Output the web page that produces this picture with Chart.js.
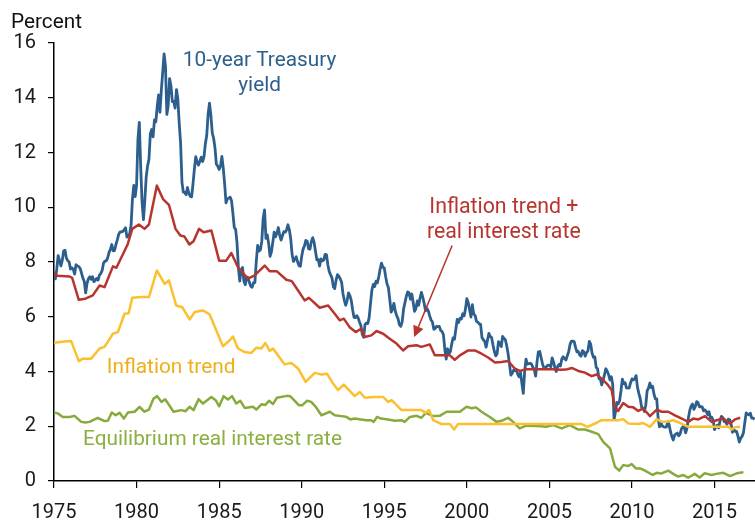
<!DOCTYPE html>
<html>
<head>
<meta charset="utf-8">
<script src="https://cdn.jsdelivr.net/npm/chart.js@4.4.1/dist/chart.umd.min.js"></script>
<style>
  html, body { margin: 0; padding: 0; background: #fff; }
  canvas { display: block; }
</style>
</head>
<body>
<canvas id="chart" width="755" height="521"></canvas>
<script>
// 10-year Treasury yield, monthly from Jan 1975
const treasuryStart = 1975;
const treasury = [
  7.50, 7.39, 7.73, 8.23, 8.06, 7.86, 8.06, 8.40, 8.43, 8.14, 8.05, 8.00,
  7.74, 7.79, 7.73, 7.56, 7.90, 7.86, 7.83, 7.77, 7.59, 7.41, 7.29, 6.87,
  7.21, 7.39, 7.46, 7.37, 7.46, 7.28, 7.33, 7.40, 7.34, 7.52, 7.58, 7.69,
  7.96, 8.03, 8.04, 8.15, 8.35, 8.46, 8.64, 8.41, 8.42, 8.64, 8.81, 9.01,
  9.10, 9.10, 9.12, 9.18, 9.25, 8.91, 8.95, 9.03, 9.33, 10.30, 10.80, 10.39,
  10.80, 12.50, 13.10, 11.47, 10.18, 9.55, 10.25, 11.10, 11.51, 11.75, 12.68, 12.84,
  12.57, 13.19, 13.12, 13.68, 14.10, 13.47, 14.28, 14.94, 15.60, 15.15, 13.39, 13.72,
  14.70, 14.43, 13.86, 13.87, 13.62, 14.30, 13.95, 13.06, 12.34, 10.91, 10.55, 10.54,
  10.46, 10.72, 10.51, 10.40, 10.38, 10.85, 11.38, 11.85, 11.65, 11.54, 11.69, 11.83,
  11.67, 11.84, 12.32, 12.63, 13.41, 13.80, 13.36, 12.72, 12.52, 12.16, 11.57, 11.50,
  11.38, 11.51, 11.86, 11.43, 10.85, 10.16, 10.31, 10.33, 10.37, 10.24, 9.78, 9.26,
  9.19, 8.70, 7.78, 7.30, 7.71, 7.80, 7.30, 7.17, 7.45, 7.43, 7.25, 7.11,
  7.08, 7.25, 7.25, 8.02, 8.61, 8.40, 8.45, 8.76, 9.60, 9.90, 8.86, 8.99,
  8.67, 8.21, 8.37, 8.72, 9.09, 8.92, 9.06, 9.26, 8.98, 8.80, 8.96, 9.11,
  9.09, 9.17, 9.36, 9.18, 8.86, 8.28, 8.02, 8.11, 8.19, 8.01, 7.87, 7.84,
  8.21, 8.47, 8.59, 8.79, 8.76, 8.48, 8.47, 8.75, 8.89, 8.72, 8.39, 8.08,
  8.09, 7.85, 8.11, 8.04, 8.07, 8.28, 8.27, 7.90, 7.65, 7.53, 7.42, 7.09,
  7.03, 7.34, 7.54, 7.48, 7.39, 7.26, 6.84, 6.59, 6.42, 6.59, 6.87, 6.77,
  6.60, 6.26, 5.98, 5.97, 6.04, 5.96, 5.81, 5.68, 5.36, 5.25, 5.72, 5.77,
  5.75, 5.97, 6.48, 6.97, 7.18, 7.10, 7.30, 7.24, 7.46, 7.74, 7.96, 7.81,
  7.78, 7.47, 7.20, 7.06, 6.63, 6.17, 6.28, 6.49, 6.20, 6.04, 5.93, 5.71,
  5.65, 5.81, 6.27, 6.51, 6.74, 6.91, 6.87, 6.64, 6.83, 6.53, 6.20, 6.30,
  6.58, 6.42, 6.69, 6.89, 6.71, 6.49, 6.22, 6.30, 6.21, 6.03, 5.88, 5.81,
  5.54, 5.57, 5.65, 5.64, 5.65, 5.50, 5.46, 5.34, 4.81, 4.45, 4.83, 4.65,
  4.72, 5.00, 5.23, 5.18, 5.54, 5.90, 5.79, 5.94, 5.92, 6.11, 6.03, 6.28,
  6.66, 6.52, 6.26, 5.99, 6.44, 6.10, 6.05, 5.83, 5.80, 5.74, 5.72, 5.24,
  5.16, 5.10, 4.89, 5.14, 5.39, 5.28, 5.24, 4.97, 4.73, 4.57, 4.65, 5.09,
  5.04, 4.91, 5.28, 5.21, 5.16, 4.93, 4.65, 4.26, 3.87, 3.94, 4.05, 4.03,
  4.05, 3.90, 3.81, 3.96, 3.57, 3.20, 3.98, 4.45, 4.27, 4.29, 4.30, 4.27,
  4.15, 4.08, 3.83, 4.35, 4.72, 4.73, 4.50, 4.28, 4.13, 4.10, 4.19, 4.23,
  4.22, 4.17, 4.50, 4.34, 4.14, 4.00, 4.18, 4.26, 4.20, 4.46, 4.54, 4.47,
  4.42, 4.57, 4.72, 4.99, 5.11, 5.11, 5.09, 4.88, 4.72, 4.73, 4.60, 4.56,
  4.76, 4.72, 4.56, 4.69, 4.75, 5.10, 5.00, 4.67, 4.52, 4.53, 4.15, 4.10,
  3.74, 3.74, 3.51, 3.68, 3.88, 4.10, 4.01, 3.89, 3.69, 3.81, 3.53, 2.25,
  2.52, 2.87, 2.82, 2.93, 3.29, 3.72, 3.56, 3.59, 3.40, 3.39, 3.40, 3.59,
  3.73, 3.69, 3.73, 3.85, 3.42, 3.20, 3.01, 2.70, 2.65, 2.54, 2.76, 3.29,
  3.39, 3.58, 3.41, 3.46, 3.17, 3.00, 3.00, 2.30, 1.98, 2.15, 2.01, 1.98,
  1.97, 1.97, 2.17, 2.05, 1.80, 1.62, 1.50, 1.68, 1.72, 1.75, 1.65, 1.72,
  1.91, 1.98, 1.96, 1.76, 1.93, 2.30, 2.58, 2.74, 2.81, 2.62, 2.72, 2.90,
  2.86, 2.71, 2.72, 2.71, 2.56, 2.60, 2.54, 2.42, 2.53, 2.30, 2.33, 2.21,
  1.88, 1.98, 2.04, 1.94, 2.20, 2.36, 2.32, 2.17, 2.17, 2.07, 2.26, 2.24,
  2.09, 1.78, 1.89, 1.81, 1.81, 1.64, 1.42, 1.56, 1.63, 1.76, 2.14, 2.49,
  2.43, 2.42, 2.48, 2.30, 2.30, 2.25
];

// Inflation trend + real interest rate
const combinedYears = [
  1975.0, 1975.2, 1975.94, 1976.1, 1976.5, 1976.9, 1977.35, 1977.76, 1978.06, 1978.57, 1978.78,
  1979.47, 1979.74, 1980.14, 1980.48, 1980.75, 1981.23, 1981.6, 1981.96, 1982.36, 1982.65, 1982.9,
  1983.2, 1983.45, 1983.78, 1984.06, 1984.53, 1985.0, 1985.43, 1985.74, 1986.14, 1986.75, 1987.15,
  1987.76, 1988.06, 1988.5, 1989.07, 1989.4, 1989.78, 1990.18, 1990.44, 1991.09, 1991.6, 1992.0,
  1992.3, 1992.55, 1992.9, 1993.27, 1993.6, 1993.82, 1994.22, 1994.53, 1994.93, 1995.33, 1995.74,
  1996.14, 1996.44, 1996.95, 1997.25, 1997.76, 1998.06, 1998.56, 1998.97, 1999.27, 1999.58, 2000.08,
  2000.48, 2000.89, 2001.29, 2001.7, 2002.1, 2002.5, 2002.9, 2003.2, 2003.6, 2004.2, 2004.8,
  2005.2, 2005.7, 2006.0, 2006.35, 2006.75, 2007.15, 2007.56, 2007.86, 2008.16, 2008.47, 2008.77,
  2008.97, 2009.17, 2009.47, 2009.78, 2010.08, 2010.38, 2010.68, 2011.09, 2011.5, 2011.8, 2012.2,
  2012.6, 2013.11, 2013.41, 2013.71, 2014.02, 2014.42, 2014.83, 2015.13, 2015.53, 2015.94, 2016.24,
  2016.55
];
const combined = [
  7.6, 7.5, 7.47, 7.42, 6.62, 6.66, 6.78, 7.14, 7.08, 7.84, 7.79,
  8.66, 9.21, 9.37, 9.21, 9.37, 10.79, 10.3, 10.09, 9.21, 8.97, 8.93,
  8.64, 8.76, 9.21, 9.09, 9.15, 8.05, 8.05, 8.33, 7.81, 7.39, 7.51,
  7.87, 7.66, 7.66, 7.35, 7.3, 6.96, 6.6, 6.69, 6.33, 6.41, 6.11,
  5.87, 5.93, 5.62, 5.44, 5.56, 5.26, 5.32, 5.48, 5.38, 5.2, 5.02,
  4.77, 4.92, 4.96, 4.9, 4.99, 4.59, 4.59, 4.59, 4.43, 4.59, 4.77,
  4.77, 4.65, 4.51, 4.33, 4.35, 4.38, 4.11, 4.02, 4.08, 4.08, 4.08,
  4.08, 4.06, 4.07, 4.13, 4.02, 3.96, 3.83, 3.89, 3.74, 3.56, 3.32,
  2.71, 2.56, 2.85, 2.71, 2.69, 2.56, 2.65, 2.37, 2.61, 2.53, 2.53,
  2.4, 2.25, 2.16, 2.28, 2.25, 2.37, 2.16, 2.22, 2.28, 2.1, 2.25,
  2.31
];

// Inflation trend
const inflationYears = [
  1975.0, 1975.64, 1976.04, 1976.5, 1976.75, 1977.25, 1977.76, 1978.06, 1978.57, 1978.87, 1979.27,
  1979.52, 1979.74, 1980.28, 1980.75, 1981.23, 1981.7, 1981.96, 1982.4, 1982.77, 1983.21, 1983.52,
  1984.02, 1984.42, 1985.23, 1985.64, 1985.84, 1986.14, 1986.55, 1986.95, 1987.25, 1987.56, 1987.8,
  1988.06, 1988.26, 1988.97, 1989.37, 1989.78, 1990.24, 1990.79, 1991.19, 1991.53, 1991.9, 1992.2,
  1992.55, 1993.21, 1993.52, 1993.82, 1994.32, 1994.93, 1995.23, 1995.44, 1995.64, 1996.04, 1997.25,
  1997.5, 1997.72, 1997.96, 1998.47, 1998.97, 1999.23, 1999.47, 2006.95, 2007.3, 2007.76, 2008.16,
  2009.17, 2009.47, 2009.78, 2010.38, 2010.68, 2011.09, 2011.5, 2011.8, 2012.1, 2012.5, 2012.9,
  2013.41, 2015.84, 2016.04, 2016.24, 2016.55
];
const inflation = [
  5.05, 5.1, 5.11, 4.38, 4.47, 4.47, 4.84, 4.9, 5.38, 5.44, 6.11,
  6.13, 6.69, 6.72, 6.72, 7.69, 7.2, 7.33, 6.41, 6.35, 5.9, 6.17,
  6.23, 6.09, 4.92, 5.14, 5.28, 4.84, 4.71, 4.68, 4.87, 4.84, 5.04,
  4.75, 4.84, 4.26, 4.31, 4.11, 3.62, 3.95, 3.89, 3.92, 3.56, 3.32,
  3.52, 3.1, 3.25, 3.04, 3.07, 3.07, 2.89, 2.95, 2.84, 2.59, 2.59,
  2.49, 2.59, 2.22, 2.08, 2.08, 1.88, 2.08, 2.08, 1.98, 2.1, 2.22,
  2.22, 2.26, 2.1, 2.08, 2.12, 1.98, 2.26, 2.16, 2.16, 2.22, 2.12,
  1.98, 1.98, 1.88, 1.96, 1.98
];

// Equilibrium real interest rate
const realRateYears = [
  1975.0, 1975.23, 1975.53, 1975.94, 1976.24, 1976.65, 1976.9, 1977.15, 1977.65, 1978.06, 1978.26,
  1978.5, 1978.73, 1978.97, 1979.23, 1979.47, 1979.88, 1980.18, 1980.48, 1980.75, 1981.03, 1981.25,
  1981.5, 1981.74, 1982.24, 1982.71, 1982.97, 1983.21, 1983.45, 1983.76, 1984.02, 1984.53, 1984.79,
  1985.0, 1985.27, 1985.53, 1985.78, 1986.04, 1986.28, 1986.55, 1987.05, 1987.25, 1987.56, 1987.8,
  1988.02, 1988.26, 1988.5, 1989.11, 1989.3, 1989.58, 1989.82, 1990.04, 1990.32, 1990.58, 1990.85,
  1991.19, 1991.7, 1992.0, 1992.4, 1992.67, 1992.95, 1993.2, 1993.6, 1993.92, 1994.2, 1994.36,
  1994.56, 1994.8, 1995.23, 1995.64, 1996.04, 1996.24, 1996.55, 1996.95, 1997.25, 1997.52, 1997.96,
  1998.36, 1998.77, 1999.58, 1999.98, 2000.3, 2000.55, 2000.89, 2001.39, 2001.8, 2002.1, 2002.5,
  2002.8, 2003.2, 2003.6, 2004.2, 2004.5, 2004.8, 2005.23, 2005.74, 2006.24, 2006.75, 2007.15,
  2007.56, 2007.96, 2008.26, 2008.67, 2008.97, 2009.23, 2009.47, 2009.78, 2009.98, 2010.24, 2010.5,
  2010.79, 2011.25, 2011.5, 2011.75, 2012.2, 2012.5, 2012.8, 2013.1, 2013.4, 2013.8, 2014.1,
  2014.4, 2014.83, 2015.1, 2015.53, 2015.94, 2016.34, 2016.75
];
const realRate = [
  2.5, 2.47, 2.34, 2.34, 2.38, 2.16, 2.14, 2.16, 2.31, 2.19, 2.2,
  2.5, 2.4, 2.49, 2.28, 2.5, 2.53, 2.71, 2.53, 2.61, 3.01, 3.1,
  2.89, 2.98, 2.53, 2.59, 2.55, 2.71, 2.59, 2.99, 2.83, 3.07, 2.95,
  2.73, 3.1, 2.98, 3.1, 2.83, 2.93, 2.67, 2.71, 2.61, 2.8, 2.78,
  2.93, 2.81, 3.04, 3.11, 3.1, 2.93, 2.77, 2.77, 2.93, 2.89, 2.71,
  2.4, 2.53, 2.4, 2.37, 2.35, 2.25, 2.28, 2.25, 2.22, 2.22, 2.16,
  2.34, 2.28, 2.25, 2.2, 2.22, 2.16, 2.34, 2.38, 2.31, 2.49, 2.37,
  2.38, 2.53, 2.53, 2.71, 2.66, 2.69, 2.53, 2.34, 2.16, 2.2, 2.31,
  2.16, 1.92, 2.02, 2.01, 2.0, 1.98, 2.04, 1.92, 2.04, 1.88, 1.88,
  1.8, 1.71, 1.43, 1.19, 0.52, 0.38, 0.58, 0.55, 0.62, 0.46, 0.46,
  0.38, 0.22, 0.3, 0.27, 0.38, 0.26, 0.16, 0.22, 0.12, 0.26, 0.13,
  0.28, 0.22, 0.26, 0.3, 0.18, 0.28, 0.32
];

const yTicks = [0, 2, 4, 6, 8, 10, 12, 14, 16];
const xTicks = [1975, 1980, 1985, 1990, 1995, 2000, 2005, 2010, 2015];

const BLUE = "#2c5f8e";
const RED = "#b8352f";
const YELLOW = "#fbc02d";
const GREEN = "#86ab3c";
const FONT = "Roboto";

const toPoints = (xs, ys) => ys.map((v, i) => ({ x: xs[i], y: v }));
const treasuryPoints = treasury.map((v, i) => ({ x: treasuryStart + i / 12, y: v }));

// text labels and the arrow, placed in data coordinates
const annotations = {
  id: "annotations",
  afterDatasetsDraw(chart) {
    const { ctx, scales } = chart;
    const px = (v) => scales.x.getPixelForValue(v);
    const py = (v) => scales.y.getPixelForValue(v);
    ctx.save();
    ctx.font = "20.8px " + FONT;
    ctx.textBaseline = "alphabetic";

    ctx.fillStyle = BLUE;
    ctx.textAlign = "center";
    ctx.fillText("10-year Treasury", px(1987.45), py(15.16));
    ctx.fillText("yield", px(1987.45), py(14.25));

    ctx.fillStyle = RED;
    ctx.font = "21.3px " + FONT;
    ctx.fillText("Inflation trend +", px(2002.24), py(9.8));
    ctx.fillText("real interest rate", px(2002.24), py(8.89));

    ctx.font = "20.8px " + FONT;
    ctx.textAlign = "left";
    ctx.fillStyle = "#eeaf1a";
    ctx.fillText("Inflation trend", px(1978.2), py(3.94));
    ctx.fillStyle = "#8bb041";
    ctx.fillText("Equilibrium real interest rate", px(1976.76), py(1.31));

    // arrow
    const x0 = px(1999.11), y0 = py(8.6);
    const x1 = px(1996.81), y1 = py(5.26);
    const ang = Math.atan2(y1 - y0, x1 - x0);
    const headLen = 11, headHalf = 5.5;
    const bx = x1 - headLen * Math.cos(ang), by = y1 - headLen * Math.sin(ang);
    ctx.strokeStyle = RED;
    ctx.lineWidth = 1.5;
    ctx.beginPath();
    ctx.moveTo(x0, y0);
    ctx.lineTo(bx, by);
    ctx.stroke();
    ctx.fillStyle = RED;
    ctx.beginPath();
    ctx.moveTo(x1, y1);
    ctx.lineTo(bx + headHalf * Math.sin(ang), by - headHalf * Math.cos(ang));
    ctx.lineTo(bx - headHalf * Math.sin(ang), by + headHalf * Math.cos(ang));
    ctx.closePath();
    ctx.fill();

    // axis title
    ctx.fillStyle = "#111";
    ctx.font = "20.8px " + FONT;
    ctx.textAlign = "left";
    ctx.fillText("Percent", 11, 28);
    ctx.restore();
  },
};

const lineStyle = (color, width) => ({
  borderColor: color,
  backgroundColor: color,
  borderWidth: width,
  pointRadius: 0,
  tension: 0,
  fill: false,
  borderJoinStyle: "round",
});

new Chart(document.getElementById("chart"), {
  type: "line",
  data: {
    datasets: [
      { label: "Inflation trend + real interest rate", data: toPoints(combinedYears, combined), ...lineStyle(RED, 2.5) },
      { label: "Inflation trend", data: toPoints(inflationYears, inflation), ...lineStyle(YELLOW, 2.5) },
      { label: "Equilibrium real interest rate", data: toPoints(realRateYears, realRate), ...lineStyle(GREEN, 2.5) },
      { label: "10-year Treasury yield", data: treasuryPoints, ...lineStyle(BLUE, 2.8) },
    ],
  },
  options: {
    responsive: false,
    animation: false,
    layout: { padding: { top: 43, left: 0, right: 0, bottom: 0 } },
    plugins: { legend: { display: false }, tooltip: { enabled: false } },
    scales: {
      x: {
        type: "linear",
        min: 1975,
        max: 2017.45,
        afterBuildTicks: (s) => { s.ticks = xTicks.map((v) => ({ value: v })); },
        afterFit: (s) => { s.height = 40; },
        ticks: {
          callback: (v) => String(v),
          font: { family: FONT, size: 20 },
          color: "#1a1a1a",
          padding: 13,
          maxRotation: 0,
          autoSkip: false,
        },
        grid: { drawOnChartArea: false, tickLength: 7, color: "#000", lineWidth: 1.2 },
        border: { color: "#000", width: 1.5 },
      },
      y: {
        min: 0,
        max: 16,
        afterBuildTicks: (s) => { s.ticks = yTicks.map((v) => ({ value: v })); },
        afterFit: (s) => { s.width = 54; },
        ticks: {
          font: { family: FONT, size: 20 },
          color: "#1a1a1a",
          padding: 12,
        },
        grid: { drawOnChartArea: false, tickLength: 6, color: "#000", lineWidth: 1.2 },
        border: { color: "#000", width: 1.5 },
      },
    },
  },
  plugins: [annotations],
});
</script>
</body>
</html>
